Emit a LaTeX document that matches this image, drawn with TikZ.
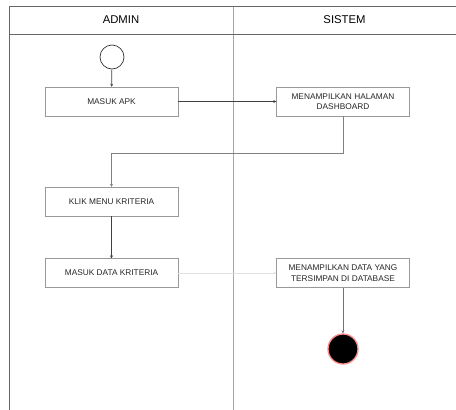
\documentclass[tikz,border=0pt]{standalone}
\usepackage{fontspec}
\setmainfont{Liberation Sans}
\usetikzlibrary{arrows.meta}
\begin{document}
\begin{tikzpicture}[x=1pt, y=-1pt,
  lane/.style={draw=black!60, line width=0.9pt},
  divider/.style={draw=black!35, line width=0.7pt},
  actbox/.style={draw=black!40, fill=white, minimum width=133pt, minimum height=29pt,
    inner sep=0pt, align=center, text=black!85, font=\fontsize{8.3}{10.5}\selectfont},
  flow/.style={draw=black!75, line width=0.7pt, -{Stealth[length=3pt, width=3pt]}}]
  \useasboundingbox (0,0) rectangle (456,410);
  \coordinate (tl) at (9, 6);
  \coordinate (tr) at (456, 6);
  \coordinate (hl) at (9, 34);
  \coordinate (hr) at (456, 34);
  \coordinate (bl) at (9, 410);
  \coordinate (mt) at (233, 6);
  \coordinate (mb) at (233, 410);

  \draw[divider] (mt) -- (mb);
  \draw[lane] (bl) -- (tl) -- (tr);
  \draw[lane] (hl) -- (hr);

  \node[font=\fontsize{11.3}{13}\selectfont] (admin) at (121, 20) {ADMIN};
  \node[font=\fontsize{11.3}{13}\selectfont] (sistem) at (344.5, 20) {SISTEM};

  \node[circle, draw=black!80, line width=0.7pt, minimum size=24pt, inner sep=0pt] (start) at (112, 57) {};
  \node[actbox] (apk) at (111.5, 101.5) {MASUK APK};
  \node[actbox] (dash) at (343, 101.5) {MENAMPILKAN HALAMAN\\DASHBOARD};
  \node[actbox] (klik) at (111.5, 201.5) {KLIK MENU KRITERIA};
  \node[actbox] (data) at (111.5, 273) {MASUK DATA KRITERIA};
  \node[actbox] (simpan) at (343, 273) {MENAMPILKAN DATA YANG\\TERSIMPAN DI DATABASE};
  \node[circle, fill=black, draw=red!45, line width=1.3pt, minimum size=30pt, inner sep=0pt] (stop) at (343, 349) {};

  \draw[flow] (start) -- (apk);
  \draw[flow] (apk) -- (dash);
  \draw[flow, draw=black!50] (dash.south) -- ++(0, 37) -| (klik.north);
  \draw[flow] (klik) -- (data);
  \draw[flow, draw=black!12] (data) -- (simpan);
  \draw[flow, draw=black!55] (simpan) -- (stop);
\end{tikzpicture}
\end{document}
